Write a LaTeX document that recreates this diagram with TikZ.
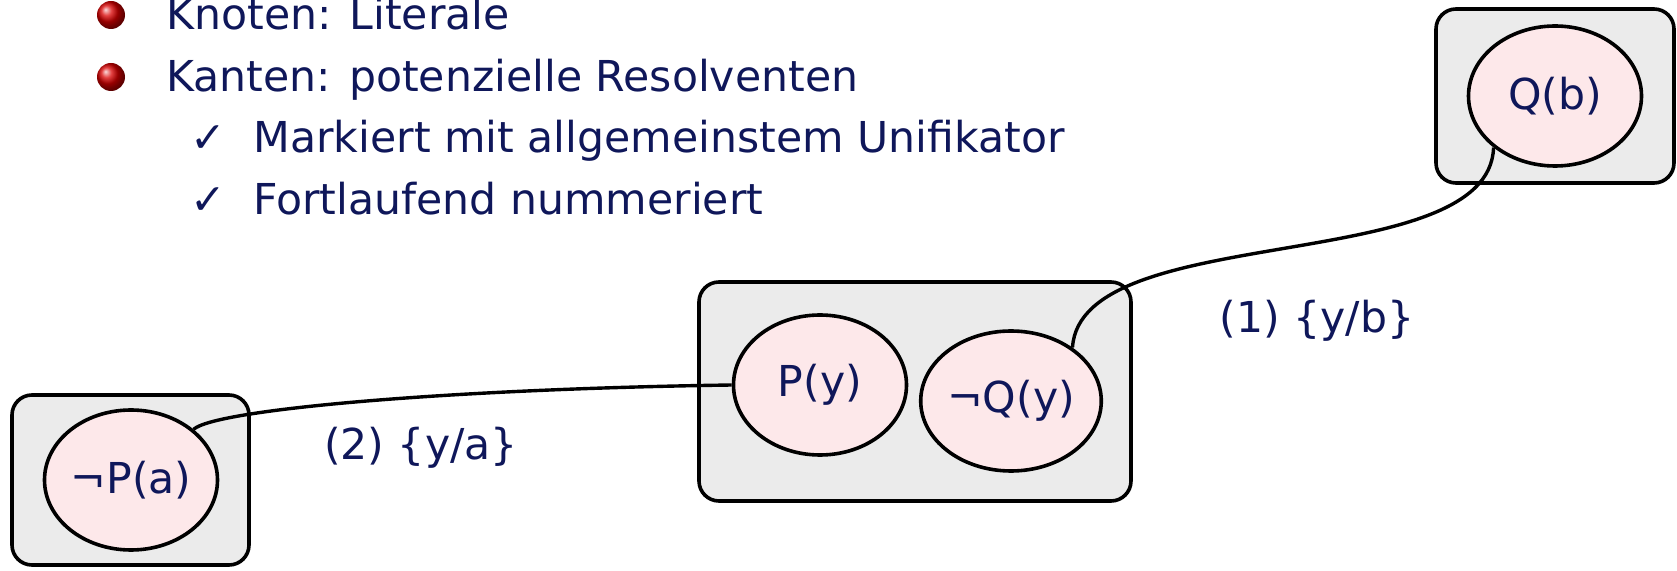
\documentclass[tikz,border=0pt]{standalone}
\usepackage{fontspec}
\setmainfont{DejaVu Sans}
\usetikzlibrary{shapes.geometric, positioning}
\definecolor{slideblue}{RGB}{15,23,90}
\definecolor{clausegray}{RGB}{235,235,235}
\definecolor{literalpink}{RGB}{253,232,234}
\newcommand{\slidefont}{\fontsize{21.3}{26}\selectfont}
\tikzset{
  clausebox/.style={rectangle, rounded corners=10pt, draw=black, fill=clausegray,
                    line width=1.8pt, inner sep=0pt},
  literal/.style={ellipse, draw=black, fill=literalpink, line width=1.8pt,
                  minimum width=86.5pt, minimum height=70pt, inner sep=0pt,
                  text=slideblue, font=\slidefont},
  reslink/.style={line width=1.7pt, black},
  unilabel/.style={text=slideblue, font=\slidefont, inner sep=0pt, anchor=base},
  itemtext/.style={text=slideblue, font=\slidefont, inner sep=0pt, anchor=base west},
  bulletball/.style={circle, shading=ball, ball color=red!85!black,
                     minimum size=14pt, inner sep=0pt},
}

\begin{document}
\begin{tikzpicture}[x=0.5pt, y=0.5pt]
  \useasboundingbox (0,0) rectangle (1677,-571);
  % bullet list
  \node[bulletball] (ball1) at (111,-15) {};
  \node[bulletball] (ball2) at (111,-77) {};
  \node[itemtext] (item1) at (166,-30) {Knoten: Literale};
  \node[itemtext] (item2) at (166,-92) {Kanten: potenzielle Resolventen};
  \node[itemtext] (chk1) at (190,-153) {✓};
  \node[itemtext] (chk2) at (190,-215) {✓};
  \node[itemtext] (item3) at (253,-153) {Markiert mit allgemeinstem Unifikator};
  \node[itemtext] (item4) at (253,-215) {Fortlaufend nummeriert};
  % clauses
  \node[clausebox, minimum width=118.5pt, minimum height=85pt] (clauseA) at (130.5,-480) {};
  \node[clausebox, minimum width=216pt, minimum height=109.5pt] (clauseB) at (915,-391.5) {};
  \node[clausebox, minimum width=119pt, minimum height=87pt] (clauseC) at (1555,-96) {};
  % literals
  \node[literal] (negPa) at (131,-480) {¬P(a)};
  \node[literal] (Py) at (820,-385) {P(y)};
  \node[literal] (negQy) at (1011,-401) {¬Q(y)};
  \node[literal] (Qb) at (1555,-96) {Q(b)};
  % resolvents
  \draw[reslink] (negPa.39) .. controls +(22,20) and +(-283,-4) .. (Py.west);
  \draw[reslink] (negQy.41) .. controls +(8,128) and +(-4,-130) .. (Qb.220);
  \node[unilabel] (uni2) at (421,-460) {(2) \{y/a\}};
  \node[unilabel] (uni1) at (1317,-333) {(1) \{y/b\}};
\end{tikzpicture}
\end{document}
